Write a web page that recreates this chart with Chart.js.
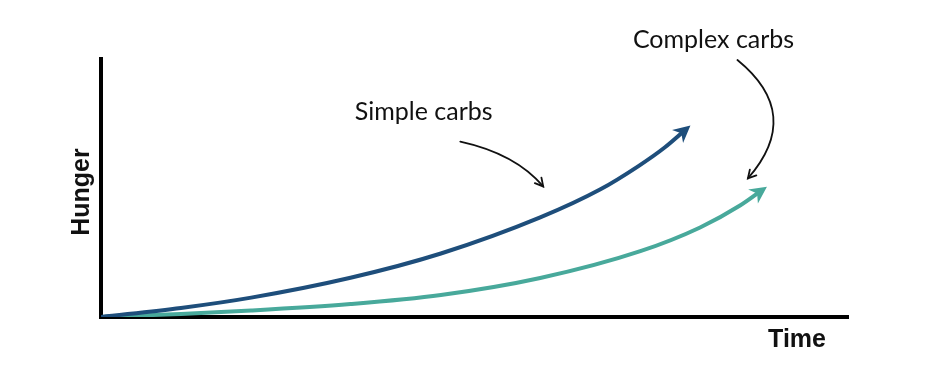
<!DOCTYPE html>
<html>
<head>
<meta charset="utf-8">
<script src="https://cdn.jsdelivr.net/npm/chart.js@4"></script>
<style>
    html, body { margin: 0; padding: 0; background: #fff; }
    #wrap { width: 950px; height: 367px; }
</style>
</head>
<body>
<div id="wrap"><canvas id="hungerChart"></canvas></div>
<script>
// ============================ data ==============================
const simpleX = [0, 10.7, 20.1, 33.4, 45.5, 58.8, 66.8, 72.0, 75.5, 78.4];
const simpleY = [0, 3.5, 7.5, 15.2, 24.6, 38.6, 49.4, 58.6, 65.8, 73.0];
const complexX = [0, 10.7, 20.1, 33.4, 45.5, 58.8, 72.2, 80.2, 85.6, 88.6];
const complexY = [0, 1.2, 2.5, 5.0, 8.5, 15.1, 25.5, 34.7, 43.3, 49.4];
const seriesNames = ['Simple carbs', 'Complex carbs'];
const axisTitles = ['Time', 'Hunger'];

// labels + curved pointer arrows, in data units
const labelPos = [[43.2, 79.5], [82.0, 107.3]];
const pointerFrom = [[48.1, 68.0], [85.2, 99.6]];
const pointerCtrl = [[55.5, 63.3], [94.1, 78.6]];
const pointerTo = [[59.2, 50.6], [86.6, 53.7]];

const blue = '#1e4e7b';
const teal = '#48a99b';

function toPoints(xs, ys) {
    return xs.map((x, i) => ({x: x, y: ys[i]}));
}

// ============================ plugin ==============================
const decorPlugin = {
    id: 'decor',
    afterDatasetsDraw(chart) {
        const ctx = chart.ctx;
        const xs = chart.scales.x;
        const ys = chart.scales.y;
        const px = p => [xs.getPixelForValue(p[0]), ys.getPixelForValue(p[1])];

        // arrow heads at the end of each line
        chart.data.datasets.forEach((ds, i) => {
            const meta = chart.getDatasetMeta(i);
            const n = meta.data.length;
            const a = meta.data[n - 2], b = meta.data[n - 1];
            const ang = Math.atan2(b.y - a.y, b.x - a.x);
            ctx.save();
            ctx.translate(b.x, b.y);
            ctx.rotate(ang);
            ctx.fillStyle = ds.borderColor;
            ctx.beginPath();
            ctx.moveTo(5, 0);
            ctx.lineTo(-12, -8.5);
            ctx.lineTo(-7, 0);
            ctx.lineTo(-12, 8.5);
            ctx.closePath();
            ctx.fill();
            ctx.restore();
        });

        // series labels
        ctx.save();
        ctx.fillStyle = '#111';
        ctx.font = '25px Lato, "Noto Sans", sans-serif';
        ctx.textAlign = 'center';
        ctx.textBaseline = 'middle';
        seriesNames.forEach((name, i) => {
            const p = px(labelPos[i]);
            ctx.fillText(name, p[0], p[1]);
        });

        // curved pointers
        ctx.strokeStyle = '#111';
        ctx.lineWidth = 1.8;
        ctx.lineCap = 'round';
        for (let i = 0; i < pointerFrom.length; i++) {
            const p0 = px(pointerFrom[i]), c = px(pointerCtrl[i]), p1 = px(pointerTo[i]);
            ctx.beginPath();
            ctx.moveTo(p0[0], p0[1]);
            ctx.quadraticCurveTo(c[0], c[1], p1[0], p1[1]);
            ctx.stroke();
            const ang = Math.atan2(p1[1] - c[1], p1[0] - c[0]);
            ctx.beginPath();
            ctx.moveTo(p1[0] - 9 * Math.cos(ang - 0.5), p1[1] - 9 * Math.sin(ang - 0.5));
            ctx.lineTo(p1[0], p1[1]);
            ctx.lineTo(p1[0] - 9 * Math.cos(ang + 0.5), p1[1] - 9 * Math.sin(ang + 0.5));
            ctx.stroke();
        }

        // axis titles
        ctx.font = 'bold 25px "Liberation Sans", Arial, sans-serif';
        ctx.textAlign = 'right';
        ctx.textBaseline = 'middle';
        ctx.fillText(axisTitles[0], xs.right - 22, ys.bottom + 23);
        ctx.translate(xs.left - 19, (ys.top + ys.bottom) / 2 + 4);
        ctx.rotate(-Math.PI / 2);
        ctx.textAlign = 'center';
        ctx.fillText(axisTitles[1], 0, 0);
        ctx.restore();
    }
};

// ============================ chart ==============================
document.addEventListener('DOMContentLoaded', function () {
    const ctx = document.getElementById('hungerChart').getContext('2d');
    new Chart(ctx, {
        type: 'line',
        data: {
            datasets: [
                {
                    label: seriesNames[0],
                    data: toPoints(simpleX, simpleY),
                    borderColor: blue,
                    borderWidth: 4,
                    pointRadius: 0,
                    cubicInterpolationMode: 'monotone'
                },
                {
                    label: seriesNames[1],
                    data: toPoints(complexX, complexY),
                    borderColor: teal,
                    borderWidth: 4,
                    pointRadius: 0,
                    cubicInterpolationMode: 'monotone'
                }
            ]
        },
        options: {
            responsive: true,
            maintainAspectRatio: false,
            animation: false,
            layout: {
                padding: {left: 93, right: 102, top: 59, bottom: 42}
            },
            plugins: {
                legend: {display: false},
                tooltip: {enabled: false}
            },
            scales: {
                x: {
                    type: 'linear',
                    min: 0,
                    max: 100,
                    grid: {display: false},
                    ticks: {display: false},
                    border: {display: true, color: '#000', width: 4}
                },
                y: {
                    min: 0,
                    max: 100,
                    grid: {display: false},
                    ticks: {display: false},
                    border: {display: true, color: '#000', width: 4}
                }
            }
        },
        plugins: [decorPlugin]
    });
});
</script>
</body>
</html>
